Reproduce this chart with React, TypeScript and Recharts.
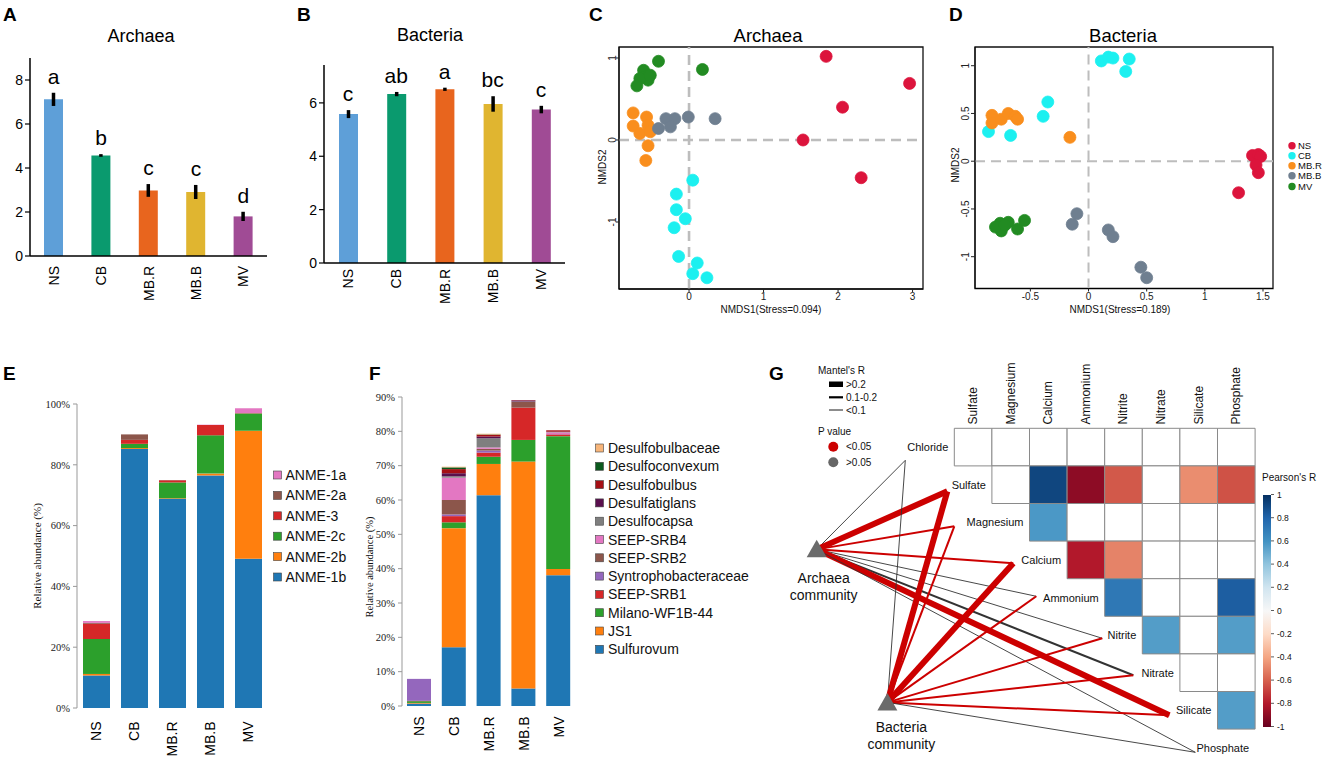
import React from "react";
import {
  ComposedChart,
  BarChart,
  Bar,
  Line,
  XAxis,
  YAxis,
  ErrorBar,
  Cell,
  LabelList,
  ScatterChart,
  Scatter,
  ReferenceLine,
  ReferenceArea,
} from "recharts";

const sans = "'Liberation Sans', Arial, sans-serif";
const serif = "'Liberation Serif', 'Times New Roman', serif";

// ---- shared groups ----
const groups = ["NS", "CB", "MB.R", "MB.B", "MV"];
const barColors = ["#5E9FD8", "#0A9A6E", "#E8651E", "#E0B530", "#A04B95"];
const pointColors = ["#DC143C", "#1CF0F0", "#F98E1D", "#6F7F90", "#228B22"];

// ---- A / B : alpha diversity ----
const archaeaDiv = [7.12, 4.57, 2.98, 2.91, 1.8];
const archaeaErr = [0.3, 0.06, 0.29, 0.32, 0.21];
const archaeaLetters = ["a", "b", "c", "c", "d"];
const bacteriaDiv = [5.58, 6.33, 6.51, 5.96, 5.75];
const bacteriaErr = [0.15, 0.08, 0.06, 0.29, 0.14];
const bacteriaLetters = ["c", "ab", "a", "bc", "c"];

// ---- C / D : NMDS points [x, y] ----
const archNS = [[1.84, 1.02], [2.96, 0.69], [2.06, 0.4], [1.53, 0.0], [2.31, -0.46]];
const archCB = [[0.05, -0.49], [-0.17, -0.66], [-0.17, -0.85], [-0.05, -0.96], [-0.2, -1.07], [-0.14, -1.42], [0.11, -1.5], [0.05, -1.63], [0.24, -1.68]];
const archMBR = [[-0.75, 0.33], [-0.57, 0.28], [-0.75, 0.17], [-0.55, 0.18], [-0.66, 0.08], [-0.52, 0.1], [-0.55, -0.07], [-0.58, -0.25]];
const archMBB = [[-0.41, 0.14], [-0.31, 0.26], [-0.19, 0.26], [-0.25, 0.16], [-0.01, 0.28], [0.35, 0.26]];
const archMV = [[-0.41, 0.96], [0.18, 0.86], [-0.61, 0.85], [-0.59, 0.77], [-0.55, 0.73], [-0.66, 0.75], [-0.7, 0.66], [-0.52, 0.79]];

const bactNS = [[1.41, 0.06], [1.46, 0.07], [1.48, 0.05], [1.44, -0.04], [1.46, -0.12], [1.29, -0.33]];
const bactCB = [[0.11, 1.05], [0.17, 1.09], [0.21, 1.08], [0.35, 1.07], [0.32, 0.94], [-0.35, 0.62], [-0.39, 0.47], [-0.86, 0.31], [-0.67, 0.27]];
const bactMBR = [[-0.83, 0.48], [-0.83, 0.4], [-0.75, 0.44], [-0.69, 0.5], [-0.63, 0.47], [-0.61, 0.44], [-0.16, 0.25]];
const bactMBB = [[-0.1, -0.55], [-0.14, -0.66], [0.17, -0.72], [0.21, -0.79], [0.45, -1.11], [0.5, -1.22]];
const bactMV = [[-0.76, -0.65], [-0.75, -0.73], [-0.69, -0.64], [-0.61, -0.71], [-0.55, -0.62], [-0.8, -0.69], [-0.72, -0.67]];

// ---- E : archaeal taxa (%), bottom to top ----
const anmeNames = ["ANME-1b", "ANME-2b", "ANME-2c", "ANME-3", "ANME-2a", "ANME-1a"];
const anmeColors = ["#1F77B4", "#FF7F0E", "#2CA02C", "#D62728", "#8C564B", "#E377C2"];
const anme1b = [10.7, 85.2, 68.8, 76.5, 49.1];
const anme2b = [0.5, 0.3, 0.2, 0.6, 42.1];
const anme2c = [11.5, 1.4, 5.2, 12.6, 5.7];
const anme3 = [5.0, 1.3, 0.7, 3.4, 0.1];
const anme2a = [0.3, 1.8, 0.1, 0.0, 0.0];
const anme1a = [0.6, 0.0, 0.0, 0.1, 1.6];
const anmeValues = [anme1b, anme2b, anme2c, anme3, anme2a, anme1a];

// ---- F : bacterial taxa (%), bottom to top ----
const bactTaxa = ["Sulfurovum", "JS1", "Milano-WF1B-44", "SEEP-SRB1", "Syntrophobacteraceae", "SEEP-SRB2", "SEEP-SRB4", "Desulfocapsa", "Desulfatiglans", "Desulfobulbus", "Desulfoconvexum", "Desulfobulbaceae"];
const bactTaxaColors = ["#1F77B4", "#FF7F0E", "#2CA02C", "#D62728", "#9467BD", "#8C564B", "#E377C2", "#7F7F7F", "#5A0F4E", "#A50F15", "#0B5A1E", "#F7B57A"];
const sulfurovum = [0.7, 17.1, 61.4, 5.1, 38.1];
const js1 = [0.2, 34.7, 9.1, 66.1, 1.8];
const milano = [0.5, 1.7, 2.1, 6.3, 38.7];
const seepSrb1 = [0.1, 1.8, 1.2, 9.4, 0.5];
const syntroph = [6.4, 0.5, 0.6, 0.0, 0.1];
const seepSrb2 = [0.0, 4.2, 0.5, 1.7, 0.0];
const seepSrb4 = [0.0, 6.5, 0.4, 0.0, 0.5];
const desulfocapsa = [0.0, 0.4, 2.7, 0.1, 0.1];
const desulfatiglans = [0.0, 0.9, 0.5, 0.3, 0.1];
const desulfobulbus = [0.0, 1.2, 0.5, 0.1, 0.4];
const desulfoconvexum = [0.0, 0.5, 0.1, 0.0, 0.0];
const desulfobulbaceae = [0.0, 0.2, 0.2, 0.0, 0.0];
const bactTaxaValues = [sulfurovum, js1, milano, seepSrb1, syntroph, seepSrb2, seepSrb4, desulfocapsa, desulfatiglans, desulfobulbus, desulfoconvexum, desulfobulbaceae];

// ---- G : Pearson matrix (upper triangle) and Mantel tests ----
const envVars = ["Chloride", "Sulfate", "Magnesium", "Calcium", "Ammonium", "Nitrite", "Nitrate", "Silicate", "Phosphate"];
// row r holds columns r..7 (column c = envVars[c + 1]); 0 = blank cell
const pearsonRows = [
  [0, 0, 0, 0, 0, 0, 0, 0],
  [0, 0.92, -0.9, -0.62, 0, -0.47, -0.64],
  [0.58, 0, 0, 0, 0, 0],
  [-0.8, -0.5, 0, 0, 0],
  [0.72, 0, 0, 0.83],
  [0.56, 0, 0.56],
  [0, 0],
  [0.56],
];
const communities = ["Archaea", "Bacteria"];
// Mantel's R class: 0 = <0.1, 1 = 0.1-0.2, 2 = >0.2
const mantelClassArchaea = [0, 2, 1, 1, 0, 0, 1, 2, 0];
const mantelSigArchaea = [false, true, true, true, false, false, false, true, false];
const mantelClassBacteria = [0, 2, 1, 2, 1, 1, 1, 1, 0];
const mantelSigBacteria = [false, true, true, true, true, true, true, true, false];
const colorbarTicks = [1, 0.8, 0.6, 0.4, 0.2, 0, -0.2, -0.4, -0.6, -0.8, -1];

// network node layout, in heat-map cell units
const envNodeX = [-1.303, -0.186, 0.0, 1.569, 2.181, 3.936, 4.761, 5.718, 6.41];
const envNodeY = [0.851, 1.676, 2.606, 3.59, 4.468, 5.585, 6.569, 7.633, 8.617];
const communityX = [-3.66, -1.78];
const communityY = [3.22, 7.29];

const rdbu = ["#67001f", "#b2182b", "#d6604d", "#f4a582", "#fddbc7", "#f7f7f7", "#d1e5f0", "#92c5de", "#4393c3", "#2166ac", "#053061"];

function hexToRgb(h: string) {
  const n = parseInt(h.slice(1), 16);
  return [(n >> 16) & 255, (n >> 8) & 255, n & 255];
}
function pearsonColor(v: number) {
  if (v === 0) return "#ffffff";
  const t = ((v + 1) / 2) * 10;
  const i = Math.min(9, Math.floor(t));
  const f = t - i;
  const a = hexToRgb(rdbu[i]);
  const b = hexToRgb(rdbu[i + 1]);
  const c = a.map((x, k) => Math.round(x + (b[k] - x) * f));
  return `rgb(${c[0]},${c[1]},${c[2]})`;
}

function rotTick(gap: number, fs: number) {
  return (p: any) => {
    const y = p.y + gap;
    return (
      <text x={p.x} y={y} transform={`rotate(-90 ${p.x} ${y})`} textAnchor="end" dominantBaseline="central" fontSize={fs} fontFamily={sans} fill="#000">
        {p.payload.value}
      </text>
    );
  };
}

function vTick(fs: number) {
  return (p: any) => (
    <text x={p.x} y={p.y} transform={`rotate(-90 ${p.x} ${p.y})`} textAnchor="middle" fontSize={fs} fontFamily={sans} fill="#222">
      {p.payload.value}
    </text>
  );
}

function DiversityChart(props: any) {
  const { left, width, height, margin, xHeight, values, errs, letters, domain, ticks, gap } = props;
  const data = groups.map((g, i) => ({ name: g, value: values[i], err: errs[i], top: values[i] + errs[i], letter: letters[i] }));
  return (
    <div style={{ position: "absolute", left, top: 0 }}>
      <ComposedChart width={width} height={height} data={data} margin={margin}>
        <XAxis dataKey="name" interval={0} height={xHeight} axisLine={{ stroke: "#000", strokeWidth: 1.5 }} tickLine={false} tickSize={0} tickMargin={0} tick={rotTick(gap, 14)} />
        <YAxis domain={domain} ticks={ticks} allowDataOverflow width={30} axisLine={{ stroke: "#000", strokeWidth: 1.5 }} tickLine={{ stroke: "#000", strokeWidth: 1.2 }} tickSize={5} tickMargin={2} tick={{ fontSize: 14, fill: "#000", fontFamily: sans }} />
        <Bar dataKey="value" barSize={19} isAnimationActive={false}>
          {data.map((d, i) => (
            <Cell key={d.name} fill={barColors[i]} />
          ))}
          <ErrorBar dataKey="err" width={0} strokeWidth={3.5} stroke="#000" />
        </Bar>
        <Line dataKey="top" stroke="none" dot={false} activeDot={false} isAnimationActive={false}>
          <LabelList dataKey="letter" position="top" offset={9} fontSize={21} fill="#000" fontFamily={sans} />
        </Line>
      </ComposedChart>
    </div>
  );
}

function NmdsChart(props: any) {
  const { left, width, margin, xDomain, yDomain, xTicks, yTicks, sets, yTickSize, yTickMargin, dashWidth } = props;
  return (
    <div style={{ position: "absolute", left, top: 0 }}>
      <ScatterChart width={width} height={320} margin={margin}>
        <XAxis type="number" dataKey="x" domain={xDomain} allowDataOverflow ticks={xTicks} interval={0} height={20} axisLine={{ stroke: "#000" }} tickLine={{ stroke: "#222" }} tickSize={3} tickMargin={1} tick={{ fontSize: 10, fill: "#222", fontFamily: sans }} />
        <YAxis type="number" dataKey="y" domain={yDomain} allowDataOverflow ticks={yTicks} interval={0} width={20} axisLine={{ stroke: "#000" }} tickLine={{ stroke: "#222" }} tickSize={yTickSize} tickMargin={yTickMargin} tick={vTick(10)} />
        <ReferenceArea x1={xDomain[0]} x2={xDomain[1]} y1={yDomain[0]} y2={yDomain[1]} fill="none" fillOpacity={0} stroke="#111" strokeWidth={1.3} ifOverflow="visible" />
        <ReferenceLine x={0} stroke="#BDBDBD" strokeWidth={dashWidth} strokeDasharray="10 6" />
        <ReferenceLine y={0} stroke="#BDBDBD" strokeWidth={dashWidth} strokeDasharray="10 6" />
        {sets.map((pts: number[][], gi: number) => (
          <Scatter
            key={groups[gi]}
            data={pts.map((p) => ({ x: p[0], y: p[1] }))}
            isAnimationActive={false}
            shape={(p: any) => <circle cx={p.cx} cy={p.cy} r={6} fill={pointColors[gi]} stroke={pointColors[gi]} strokeWidth={0.8} />}
          />
        ))}
      </ScatterChart>
    </div>
  );
}

function StackChart(props: any) {
  const { left, width, margin, xHeight, names, colors, values, domain, ticks, barSize, yWidth, gap } = props;
  const data = groups.map((g, i) => {
    const row: any = { name: g };
    names.forEach((n: string, k: number) => (row[n] = values[k][i]));
    return row;
  });
  return (
    <div style={{ position: "absolute", left, top: 380 }}>
      <BarChart width={width} height={382} data={data} margin={margin}>
        <XAxis dataKey="name" interval={0} height={xHeight} axisLine={false} tickLine={false} tickSize={0} tickMargin={0} tick={rotTick(gap, 14)} />
        <YAxis domain={domain} ticks={ticks} allowDataOverflow width={yWidth} axisLine={{ stroke: "#999" }} tickLine={{ stroke: "#999" }} tickSize={4} tickMargin={3} tickFormatter={(v: number) => `${v}%`} tick={{ fontSize: 10.5, fill: "#222", fontFamily: serif }} />
        {names.map((n: string, k: number) => (
          <Bar key={n} dataKey={n} stackId="s" fill={colors[k]} barSize={barSize} isAnimationActive={false} />
        ))}
      </BarChart>
    </div>
  );
}

const CELL = 37.6;
const G_LEFT = 780;
const G_TOP = 340;
const G_W = 545;
const G_H = 422;
const GRID_X0 = 954.3;
const GRID_Y0 = 428.3;
const gDomX = [(G_LEFT - GRID_X0) / CELL, (G_LEFT + G_W - GRID_X0) / CELL];
const gDomY = [(G_TOP - GRID_Y0) / CELL, (G_TOP + G_H - GRID_Y0) / CELL];
const lineWidths = [0.9, 2.0, 6];

function CorrChart() {
  const cells: any[] = [];
  pearsonRows.forEach((row, r) =>
    row.forEach((v, k) => {
      const c = r + k;
      cells.push(
        <ReferenceArea key={`c${r}-${c}`} x1={c} x2={c + 1} y1={r} y2={r + 1} fill={pearsonColor(v)} fillOpacity={1} stroke="#8A8A8A" strokeWidth={1} ifOverflow="visible" />
      );
    })
  );
  const links: any[] = [];
  const classes = [mantelClassArchaea, mantelClassBacteria];
  const sigs = [mantelSigArchaea, mantelSigBacteria];
  communities.forEach((cm, ci) =>
    envVars.forEach((ev, ei) => {
      links.push(
        <ReferenceLine
          key={`${cm}-${ev}`}
          segment={[{ x: communityX[ci], y: communityY[ci] }, { x: envNodeX[ei], y: envNodeY[ei] }]}
          stroke={sigs[ci][ei] ? "#CC0000" : "#333333"}
          strokeWidth={lineWidths[classes[ci][ei]]}
          ifOverflow="visible"
        />
      );
    })
  );
  const headerData = envVars.slice(1).map((n, i) => ({ x: i + 0.5, y: -0.1, name: n }));
  const rowLabelData = envVars.map((n, i) => ({ x: i - 0.16, y: i + 0.5, name: n }));
  const nodeData = communities.map((n, i) => ({ x: communityX[i], y: communityY[i], name: n }));
  const labelDx = [7, 14];
  const labelDy = [34, 30];
  return (
    <div style={{ position: "absolute", left: G_LEFT, top: G_TOP }}>
      <ScatterChart width={G_W} height={G_H} margin={{ top: 0, right: 0, bottom: 0, left: 0 }}>
        <XAxis type="number" dataKey="x" domain={gDomX} allowDataOverflow hide />
        <YAxis type="number" dataKey="y" domain={gDomY} allowDataOverflow reversed hide />
        {cells}
        {links}
        <Scatter
          data={nodeData}
          isAnimationActive={false}
          shape={(p: any) => {
            const i = communities.indexOf(p.payload.name);
            return (
              <g>
                <polygon points={`${p.cx},${p.cy - 9.5} ${p.cx - 10},${p.cy + 8} ${p.cx + 10},${p.cy + 8}`} fill="#6B6B6B" />
                <text x={p.cx + labelDx[i]} y={p.cy + labelDy[i]} textAnchor="middle" fontSize={14} fontFamily={sans} fill="#111">{p.payload.name}</text>
                <text x={p.cx + labelDx[i]} y={p.cy + labelDy[i] + 16.5} textAnchor="middle" fontSize={14} fontFamily={sans} fill="#111">community</text>
              </g>
            );
          }}
        />
        <Scatter
          data={headerData}
          isAnimationActive={false}
          shape={(p: any) => (
            <text x={p.cx} y={p.cy} transform={`rotate(-90 ${p.cx} ${p.cy})`} textAnchor="start" dominantBaseline="central" fontSize={12} fontFamily={sans} fill="#111">
              {p.payload.name}
            </text>
          )}
        />
        <Scatter
          data={rowLabelData}
          isAnimationActive={false}
          shape={(p: any) => (
            <text x={p.cx} y={p.cy} textAnchor="end" dominantBaseline="central" fontSize={11} fontFamily={sans} fill="#111">
              {p.payload.name}
            </text>
          )}
        />
      </ScatterChart>
    </div>
  );
}

function Overlay() {
  const cbTop = 494.5;
  const cbH = 232;
  return (
    <svg width={1325} height={762} style={{ position: "absolute", left: 0, top: 0, pointerEvents: "none" }} fontFamily={sans}>
      {[["A", 3, 20.5], ["B", 297, 20.5], ["C", 589, 20.5], ["D", 949, 20.5], ["E", 3, 380], ["F", 369, 380], ["G", 769, 380]].map((d: any) => (
        <text key={d[0]} x={d[1]} y={d[2]} fontSize={19} fontWeight="bold" fill="#000">{d[0]}</text>
      ))}
      <text x={141} y={41.5} textAnchor="middle" fontSize={18} fill="#000">Archaea</text>
      <text x={430} y={40.5} textAnchor="middle" fontSize={18} fill="#000">Bacteria</text>
      <text x={768} y={41.5} textAnchor="middle" fontSize={18.5} fill="#000">Archaea</text>
      <text x={1123} y={41.5} textAnchor="middle" fontSize={18.5} fill="#000">Bacteria</text>
      <text x={771} y={312.5} textAnchor="middle" fontSize={10} fill="#111">NMDS1(Stress=0.094)</text>
      <text x={1120} y={312.5} textAnchor="middle" fontSize={10} fill="#111">NMDS1(Stress=0.189)</text>
      <text x={602} y={167} transform="rotate(-90 602 167)" textAnchor="middle" dominantBaseline="central" fontSize={10} fill="#111">NMDS2</text>
      <text x={955} y={165} transform="rotate(-90 955 165)" textAnchor="middle" dominantBaseline="central" fontSize={10} fill="#111">NMDS2</text>
      {groups.map((g, i) => (
        <g key={g}>
          <circle cx={1292} cy={[145.7, 155.7, 165.7, 175.7, 186.5][i]} r={3.7} fill={pointColors[i]} />
          <text x={1298} y={[145.7, 155.7, 165.7, 175.7, 186.5][i] + 3.4} fontSize={9.5} fill="#111">{g}</text>
        </g>
      ))}
      <text x={37} y={556} transform="rotate(-90 37 556)" textAnchor="middle" dominantBaseline="central" fontSize={11} fontFamily={serif} fill="#111">Relative abundance (%)</text>
      <text x={369} y={567} transform="rotate(-90 369 567)" textAnchor="middle" dominantBaseline="central" fontSize={10.5} fontFamily={serif} fill="#111">Relative abundance (%)</text>
      {anmeNames.slice().reverse().map((n, i) => {
        const k = anmeNames.length - 1 - i;
        const y = 475 + i * 20.4;
        return (
          <g key={n}>
            <rect x={273.5} y={y - 4} width={8} height={8} fill={anmeColors[k]} stroke="#444" strokeWidth={0.6} />
            <text x={285.5} y={y + 5} fontSize={14} fill="#111">{n}</text>
          </g>
        );
      })}
      {bactTaxa.slice().reverse().map((n, i) => {
        const k = bactTaxa.length - 1 - i;
        const y = 448 + i * 18.3;
        return (
          <g key={n}>
            <rect x={595.5} y={y - 4} width={8} height={8} fill={bactTaxaColors[k]} stroke="#444" strokeWidth={0.6} />
            <text x={608} y={y + 5} fontSize={14} fill="#111">{n}</text>
          </g>
        );
      })}
      <text x={818} y={373.5} fontSize={10} fill="#111">Mantel's R</text>
      <rect x={829} y={381.5} width={14} height={5.5} fill="#000" />
      <text x={846} y={388} fontSize={10} fill="#111">&gt;0.2</text>
      <line x1={829} x2={843} y1={397.3} y2={397.3} stroke="#000" strokeWidth={2.2} />
      <text x={846} y={400.8} fontSize={10} fill="#111">0.1-0.2</text>
      <line x1={829} x2={843} y1={410} y2={410} stroke="#000" strokeWidth={0.9} />
      <text x={846} y={413.5} fontSize={10} fill="#111">&lt;0.1</text>
      <text x={818} y={434.5} fontSize={10} fill="#111">P value</text>
      <circle cx={833.3} cy={446.7} r={5} fill="#CC0000" />
      <text x={846} y={450.2} fontSize={10} fill="#111">&lt;0.05</text>
      <circle cx={833.3} cy={462.3} r={5} fill="#666" />
      <text x={846} y={465.8} fontSize={10} fill="#111">&gt;0.05</text>
      <text x={1262} y={480.5} fontSize={10} fill="#111">Pearson's R</text>
      {colorbarTicks.map((v) => {
        const y = cbTop + ((1 - v) / 2) * cbH;
        return (
          <g key={v}>
            <line x1={1271} x2={1274} y1={y} y2={y} stroke="#333" strokeWidth={0.8} />
            <text x={1277} y={y + 3} fontSize={8.5} fill="#111">{v}</text>
          </g>
        );
      })}
    </svg>
  );
}

export default function App() {
  return (
    <div style={{ position: "absolute", left: 0, top: 0, width: 1325, height: 762, background: "#fff", overflow: "hidden", fontFamily: sans }}>
      <DiversityChart left={0} width={280} height={310} xHeight={54} margin={{ top: 58, right: 13, bottom: 0, left: 0 }} values={archaeaDiv} errs={archaeaErr} letters={archaeaLetters} domain={[0, 9]} ticks={[0, 2, 4, 6, 8]} gap={10} />
      <DiversityChart left={290} width={290} height={310} xHeight={47} margin={{ top: 65, right: 15, bottom: 0, left: 4 }} values={bacteriaDiv} errs={bacteriaErr} letters={bacteriaLetters} domain={[0, 7.42]} ticks={[0, 2, 4, 6]} gap={6} />
      <NmdsChart left={580} width={360} margin={{ top: 47, right: 17, bottom: 11, left: 19 }} xDomain={[-0.94, 3.14]} yDomain={[-1.817, 1.134]} xTicks={[0, 1, 2, 3]} yTicks={[-1, 0, 1]} sets={[archNS, archCB, archMBR, archMBB, archMV]} yTickSize={3} yTickMargin={0} dashWidth={2.6} />
      <NmdsChart left={940} width={385} margin={{ top: 47, right: 52, bottom: 11.5, left: 15 }} xDomain={[-0.976, 1.586]} yDomain={[-1.333, 1.196]} xTicks={[-0.5, 0, 0.5, 1, 1.5]} yTicks={[-1, -0.5, 0, 0.5, 1]} sets={[bactNS, bactCB, bactMBR, bactMBB, bactMV]} yTickSize={4} yTickMargin={2} dashWidth={2} />
      <StackChart left={0} width={280} xHeight={54} margin={{ top: 24, right: 13, bottom: 0, left: 17 }} names={anmeNames} colors={anmeColors} values={anmeValues} domain={[0, 100]} ticks={[0, 20, 40, 60, 80, 100]} barSize={27} yWidth={60} gap={13.5} />
      <StackChart left={340} width={250} xHeight={56} margin={{ top: 17, right: 14, bottom: 0, left: 7 }} names={bactTaxa} colors={bactTaxaColors} values={bactTaxaValues} domain={[0, 90]} ticks={[0, 10, 20, 30, 40, 50, 60, 70, 80, 90]} barSize={24} yWidth={55} gap={10.5} />
      <CorrChart />
      <div style={{ position: "absolute", left: 1263, top: 494.5, width: 8, height: 232, background: `linear-gradient(to bottom, ${rdbu.slice().reverse().join(", ")})` }} />
      <Overlay />
    </div>
  );
}
